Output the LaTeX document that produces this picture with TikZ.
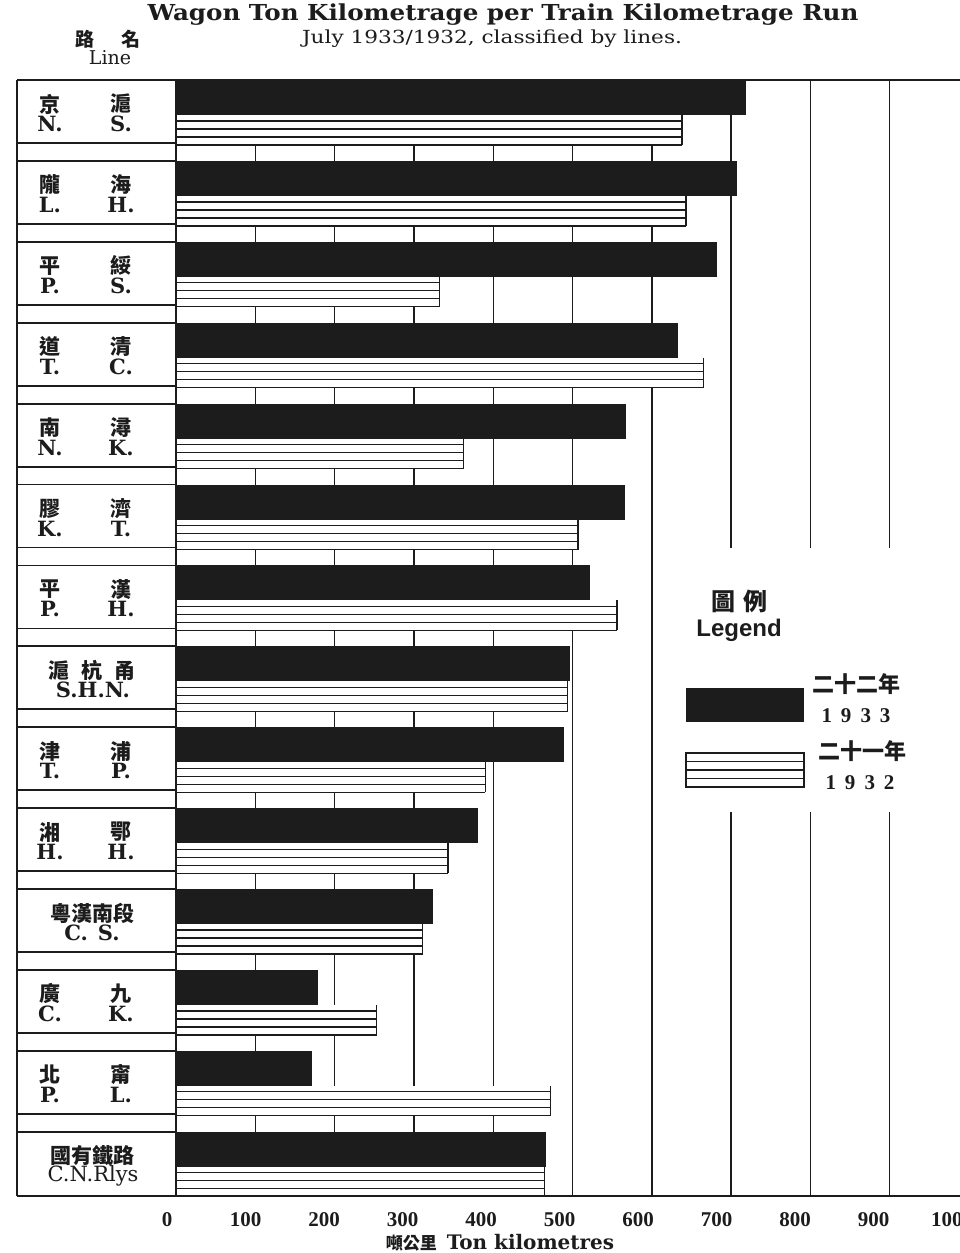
\documentclass[tikz,border=0pt]{standalone}
\usepackage{fontspec}
\setmainfont{Liberation Serif}
\newfontfamily\cjk{Noto Sans CJK TC}
\newfontfamily\clar{DejaVu Serif}
\newfontfamily\legendfont{Liberation Sans}
\usepackage{graphicx}
\definecolor{inkblack}{RGB}{28, 28, 28}
\usetikzlibrary{positioning, calc}

\begin{document}
\begin{tikzpicture}[
    x=1pt, y=-1pt,
    gridline/.style={draw=inkblack, line width=1.4pt},
    frameline/.style={draw=inkblack, line width=1.8pt},
    stripe/.style={draw=inkblack, line width=1.2pt},
    cjklabel/.style={font=\cjk\bfseries\fontsize{21}{21}\selectfont, text=inkblack, inner sep=0pt},
    englabel/.style={font=\clar\bfseries\fontsize{21}{21}\selectfont, text=inkblack, inner sep=0pt},
    ticklabel/.style={font=\bfseries\fontsize{21}{21}\selectfont, text=inkblack, inner sep=0pt}
]
    \useasboundingbox[fill=white] (0,0) rectangle (960,1253);

    % Titles
    \node[font=\clar\bfseries\fontsize{22}{22}\selectfont, text=inkblack, inner sep=0pt, anchor=base] (title) at (503,20)
        {\resizebox{711pt}{\height}{Wagon Ton Kilometrage per Train Kilometrage Run}};
    \node[font=\clar\fontsize{18}{18}\selectfont, text=inkblack, inner sep=0pt, anchor=base] (subtitle) at (492,43)
        {\resizebox{380pt}{\height}{July 1933/1932, classified by lines.}};
    \node[cjklabel, font=\cjk\bfseries\fontsize{19}{19}\selectfont] (linecjk) at (108,39) {路\hspace{27pt}名};
    \node[font=\clar\fontsize{19}{19}\selectfont, text=inkblack, inner sep=0pt, anchor=base] (lineeng) at (110,64) {Line};

    % Grid (broken behind the legend)
    \foreach \k in {1,...,6}
        \draw[gridline] ({176+79.3*\k},80) -- ({176+79.3*\k},1196);
    \foreach \k in {7,8,9} {
        \draw[gridline] ({176+79.3*\k},80) -- ({176+79.3*\k},548);
        \draw[gridline] ({176+79.3*\k},812) -- ({176+79.3*\k},1196);
    }

    % Bars: 1933 solid, 1932 ruled
    \foreach \i/\va/\vb in {1/719/638, 2/707/643, 3/682/332, 4/633/665, 5/567/363,
                            6/566/507, 7/522/556, 8/497/494, 9/489/390, 10/381/343,
                            11/324/311, 12/179/253, 13/171/472, 14/467/465} {
        \pgfmathsetmacro\rowy{80+80.9*(\i-1)}
        \pgfmathsetmacro\xa{176+0.793*\va}
        \pgfmathsetmacro\xb{176+0.793*\vb}
        \fill[inkblack] (176,\rowy) rectangle (\xa,{\rowy+35});
        \fill[white] (176,{\rowy+35}) rectangle (\xb,{\rowy+65});
        \foreach \d in {41,49,57,65}
            \draw[stripe] (176,{\rowy+\d}) -- (\xb,{\rowy+\d});
        \draw[stripe] (\xb,{\rowy+35}) -- (\xb,{\rowy+65});
    }

    % Line column
    \draw[frameline] (17,80) -- (960,80);
    \draw[frameline] (17,1196) -- (960,1196);
    \draw[frameline] (17,80) -- (17,1196);
    \draw[frameline] (176,80) -- (176,1196);
    \foreach \i in {1,...,13} {
        \pgfmathsetmacro\rowy{80+80.9*(\i-1)}
        \draw[frameline] (17,{\rowy+63}) -- (176,{\rowy+63});
        \draw[frameline] (17,{\rowy+80.9}) -- (176,{\rowy+80.9});
    }

    % Line names
    \foreach \i/\ca/\cb/\ea/\eb in {1/京/滬/N./S., 2/隴/海/L./H., 3/平/綏/P./S., 4/道/清/T./C.,
                                    5/南/潯/N./K., 6/膠/濟/K./T., 7/平/漢/P./H., 9/津/浦/T./P.,
                                    10/湘/鄂/H./H., 12/廣/九/C./K., 13/北/甯/P./L.} {
        \pgfmathsetmacro\rowy{80+80.9*(\i-1)}
        \node[cjklabel] (cjk-\i-a) at (50,{\rowy+24}) {\ca};
        \node[cjklabel] (cjk-\i-b) at (121,{\rowy+24}) {\cb};
        \node[englabel] (eng-\i-a) at (50,{\rowy+44}) {\ea};
        \node[englabel] (eng-\i-b) at (121,{\rowy+44}) {\eb};
    }
    \node[cjklabel] (cjk-8) at (92,{80+80.9*7+24}) {滬\hspace{12pt}杭\hspace{12pt}甬};
    \node[englabel] (eng-8) at (93,{80+80.9*7+44}) {S.H.N.};
    \node[cjklabel] (cjk-11) at (92,{80+80.9*10+24}) {粵漢南段};
    \node[englabel] (eng-11) at (92,{80+80.9*10+44}) {C.\hspace{10pt}S.};
    \node[cjklabel] (cjk-14) at (92,{80+80.9*13+24}) {國有鐵路};
    \node[englabel, font=\clar\fontsize{21}{21}\selectfont] (eng-14) at (93,{80+80.9*13+44}) {C.N.Rlys};

    % Scale
    \foreach \v [count=\k from 0] in {0,100,...,1000}
        \node[ticklabel] (tick-\k) at ({167+78.5*\k},1220) {\v};
    \node[inner sep=0pt, text=inkblack] (unit) at (500,1243)
        {{\cjk\bfseries\fontsize{17}{17}\selectfont 噸公里}\hspace{10pt}{\clar\bfseries\fontsize{20}{20}\selectfont Ton kilometres}};

    % Legend
    \node[font=\cjk\bfseries\fontsize{24}{24}\selectfont, text=inkblack, inner sep=0pt] (legendcjk) at (739,601) {圖\hspace{8pt}例};
    \node[font=\legendfont\bfseries\fontsize{24}{24}\selectfont, text=inkblack, inner sep=0pt, below=6pt of legendcjk] (legendeng) {Legend};
    \node[fill=inkblack, minimum width=118pt, minimum height=34pt, inner sep=0pt] (key33) at (745,705) {};
    \node[draw=inkblack, line width=1.2pt, fill=white, minimum width=118pt, minimum height=34pt, inner sep=0pt] (key32) at (745,770) {};
    \foreach \f in {0.25,0.5,0.75}
        \draw[stripe] ($(key32.north west)!\f!(key32.south west)$) -- ($(key32.north east)!\f!(key32.south east)$);
    \node[cjklabel, font=\cjk\bfseries\fontsize{22}{22}\selectfont] (year33cjk) at (856,684) {二十二年};
    \node[ticklabel] (year33) at (856,716) {1\hspace{9pt}9\hspace{9pt}3\hspace{9pt}3};
    \node[cjklabel, font=\cjk\bfseries\fontsize{22}{22}\selectfont] (year32cjk) at (862,751) {二十一年};
    \node[ticklabel] (year32) at (860,783) {1\hspace{9pt}9\hspace{9pt}3\hspace{9pt}2};
\end{tikzpicture}
\end{document}
